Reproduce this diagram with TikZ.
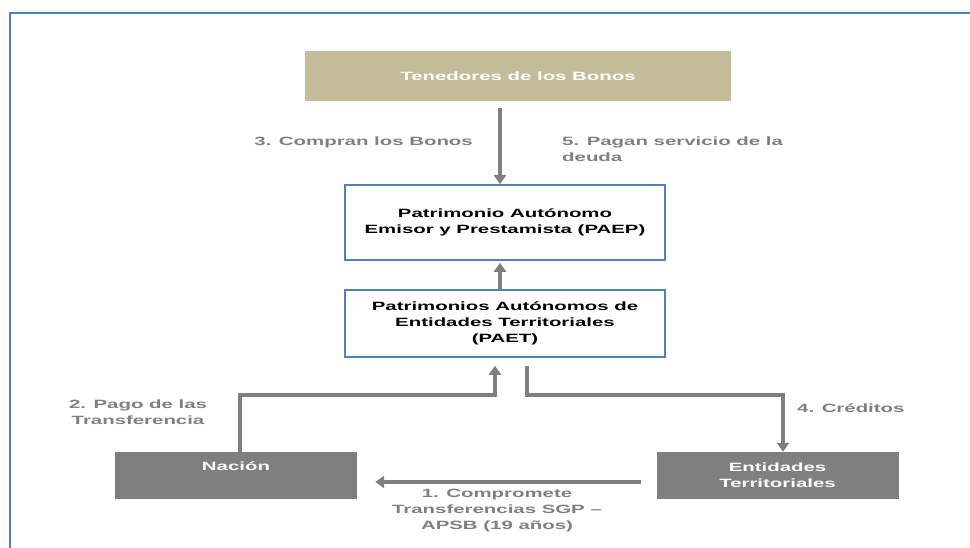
\documentclass[tikz,border=0pt]{standalone}
\usepackage{fontspec}
\setmainfont{Liberation Sans}[FakeStretch=1.7]
\usepackage{xcolor}
\usepackage{tikz}
\usetikzlibrary{positioning,calc}
\usetikzlibrary{arrows.meta}

\definecolor{frameblue}{HTML}{4F81BD}
\definecolor{bondtan}{HTML}{C4BC98}
\definecolor{flowgray}{HTML}{7F7F7F}

\begin{document}
\begin{tikzpicture}[x=1pt,y=-1pt,font=\fontsize{12}{16}\selectfont\bfseries]
		\tikzset{
			tanbox/.style={fill=bondtan,text=white,minimum width=426,minimum height=50,inner sep=0pt},
			bluebox/.style={draw=frameblue,line width=1.6pt,fill=white,align=center,minimum width=320,inner sep=0pt},
			graybox/.style={fill=flowgray,text=white,align=center,minimum width=242,minimum height=47,inner sep=0pt},
			flow/.style={draw=flowgray,line width=4pt,-{Triangle[width=12pt,length=9pt]}},
			steplabel/.style={text=flowgray,align=center,inner sep=0pt},
		}
		\useasboundingbox (0,0) rectangle (970,548);
		\draw[frameblue,line width=2pt] (10,548) -- (10,13) -- (970,13);

		% boxes
		\node[tanbox] (bonos) at (518,76) {Tenedores de los Bonos};
		\node[bluebox,minimum height=75] (paep) at (505,222.5) {Patrimonio Autónomo\\Emisor y Prestamista (PAEP)};
		\node[bluebox,minimum height=67] (paet) at (505,323.5) {Patrimonios Autónomos de\\Entidades Territoriales\\(PAET)};
		\node[graybox,text depth=20pt,text height=9pt] (nacion) at (236,475.5) {Nación};
		\node[graybox] (entidades) at (777.5,475.5) {Entidades\\Territoriales};

		% connectors
		\draw[flow,shorten <=7pt] ([xshift=-5]paep.north |- bonos.south) -- ([xshift=-5]paep.north);
		\draw[flow,shorten >=2pt] ([xshift=-5]paet.north) -- ([xshift=-5]paep.south);
		\draw[flow,shorten >=8pt] ([xshift=4]nacion.north) |- (495,395) -- ([xshift=-10]paet.south);
		\draw[flow,shorten <=8pt] ([xshift=22]paet.south) |- (783,395) -- ([xshift=5.5]entidades.north);
		\draw[flow,shorten <=15pt,shorten >=18pt] ([yshift=-6.5]entidades.west) -- ([yshift=-6.5]nacion.east);

		% labels
		\node[steplabel,anchor=east] (compran) at (473,142) {3. Compran los Bonos};
		\node[steplabel,anchor=north west,align=left] (pagan) at (562,137) {5. Pagan servicio de la\\deuda};
		\node[steplabel] (pago) at (138,412) {2. Pago de las\\Transferencia};
		\node[steplabel,anchor=west] (creditos) at (797,408) {4. Créditos};
		\node[steplabel] (compromete) at (497,511) {1. Compromete\\Transferencias SGP –\\APSB (19 años)};
	\end{tikzpicture}
\end{document}
